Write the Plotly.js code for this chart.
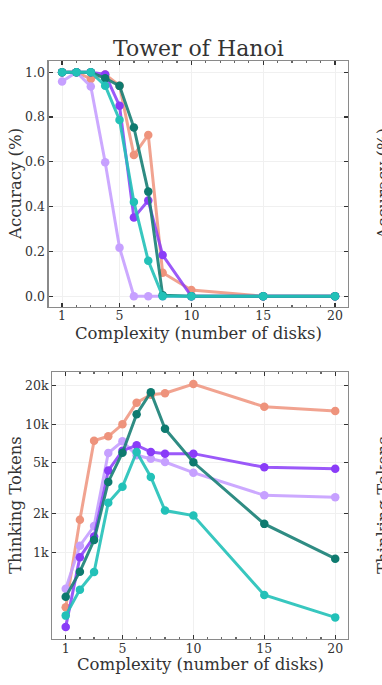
<!DOCTYPE html>
<html>
<head>
<meta charset="utf-8">
<script src="https://cdn.plot.ly/plotly-3.0.1.min.js"></script>
<style>html,body{margin:0;padding:0;background:#fff;}#chart{width:382px;height:685px;}</style>
</head>
<body>
<div id="chart"></div>
<script>
// Complexity (number of disks)
const disks = [1, 2, 3, 4, 5, 6, 7, 8, 10, 15, 20];

// Accuracy per model
const accSalmon     = [1.00, 1.00, 0.97, 0.99, 0.94, 0.63, 0.72, 0.105, 0.028, 0, 0];
const accLavender   = [0.958, 1.00, 0.936, 0.598, 0.217, 0, 0, 0, 0, 0, 0];
const accPurple     = [1.00, 1.00, 1.00, 0.99, 0.85, 0.351, 0.427, 0.184, 0, 0, 0];
const accDarkTeal   = [1.00, 1.00, 1.00, 0.973, 0.939, 0.753, 0.467, 0.005, 0, 0, 0];
const accCyan       = [1.00, 1.00, 1.00, 0.94, 0.787, 0.421, 0.158, 0, 0, 0, 0];

// Thinking tokens per model
const tokSalmon     = [373, 1800, 7450, 8060, 10000, 14750, 17000, 17500, 20640, 13700, 12700];
const tokLavender   = [521, 1128, 1607, 5970, 7360, 5730, 5380, 5080, 4190, 2790, 2700];
const tokPurple     = [262, 917, 1330, 4350, 6220, 6860, 6080, 5900, 5900, 4620, 4500];
const tokDarkTeal   = [451, 707, 1250, 3550, 6000, 11970, 17780, 9240, 5050, 1670, 893];
const tokCyan       = [321, 512, 703, 2440, 3260, 6080, 3880, 2120, 1940, 465, 311];

const accTicks = [0, 0.2, 0.4, 0.6, 0.8, 1.0];
const accTickText = ['0.0', '0.2', '0.4', '0.6', '0.8', '1.0'];
const tokTicks = [1000, 2000, 5000, 10000, 20000];
const tokTickText = ['1k', '2k', '5k', '10k', '20k'];
const xTicks = [1, 5, 10, 15, 20];

const series = [
  {name: 'Model A', color: '#EE937C', line: 'rgba(238,147,124,0.85)', acc: accSalmon, tok: tokSalmon},
  {name: 'Model B', color: '#C6A0FF', line: 'rgba(198,160,255,0.9)', acc: accLavender, tok: tokLavender},
  {name: 'Model C', color: '#8A3CF8', line: 'rgba(138,60,248,0.85)', acc: accPurple, tok: tokPurple},
  {name: 'Model D', color: '#0E7A6F', line: 'rgba(24,128,118,0.9)', acc: accDarkTeal, tok: tokDarkTeal},
  {name: 'Model E', color: '#22C1B8', line: 'rgba(34,193,184,0.9)', acc: accCyan, tok: tokCyan}
];

const traces = [];
series.forEach(s => {
  traces.push({x: disks, y: s.acc, xaxis: 'x', yaxis: 'y', name: s.name, mode: 'lines+markers',
    line: {color: s.line, width: 3}, marker: {color: s.color, size: 8.5}, showlegend: false});
});
series.forEach(s => {
  traces.push({x: disks, y: s.tok, xaxis: 'x2', yaxis: 'y2', name: s.name, mode: 'lines+markers',
    line: {color: s.line, width: 3}, marker: {color: s.color, size: 8.5}, showlegend: false});
});

const W = 382, H = 685;
const px = v => v / W;
const py = v => 1 - v / H;
const FONT = 'DejaVu Serif, serif';
const TXT = '#333333';

const axisCommon = {
  showline: true, mirror: 'ticks', linecolor: '#8a8a8a', linewidth: 1.3,
  ticks: 'inside', ticklen: 4, tickwidth: 1.2, tickcolor: '#333',
  showgrid: true, gridcolor: '#f0f0f0', gridwidth: 1, zeroline: false,
  tickfont: {family: FONT, size: 12.5, color: TXT}
};
const xMinor = {tickmode: 'linear', tick0: 0, dtick: 1, ticks: 'inside', ticklen: 2, tickcolor: '#666', showgrid: false};

const layout = {
  width: W, height: H,
  margin: {l: 0, r: 0, t: 0, b: 0},
  paper_bgcolor: '#fff', plot_bgcolor: '#fff',
  font: {family: FONT, color: TXT},
  xaxis: Object.assign({}, axisCommon, {domain: [px(48.7), px(347.7)], range: [0.07, 20.88], anchor: 'y',
    tickmode: 'array', tickvals: xTicks, minor: xMinor, ticklabelstandoff: -3}),
  yaxis: Object.assign({}, axisCommon, {domain: [py(307), py(61)], range: [-0.048, 1.05], anchor: 'x',
    tickmode: 'array', tickvals: accTicks, ticktext: accTickText}),
  xaxis2: Object.assign({}, axisCommon, {domain: [px(52.3), px(347.7)], range: [0.054, 20.88], anchor: 'y2',
    tickmode: 'array', tickvals: xTicks, minor: xMinor, ticklabelstandoff: -2}),
  yaxis2: Object.assign({}, axisCommon, {domain: [py(638.7), py(372)], type: 'log',
    range: [Math.log10(212), Math.log10(25600)], anchor: 'x2',
    tickmode: 'array', tickvals: tokTicks, ticktext: tokTickText}),
  annotations: [
    {text: 'Tower of Hanoi', x: px(198), y: py(48), xref: 'paper', yref: 'paper', showarrow: false,
      xanchor: 'center', yanchor: 'middle', font: {family: FONT, size: 22, color: TXT}},
    {text: 'Accuracy (%)', x: px(15), y: py(184), xref: 'paper', yref: 'paper', showarrow: false, textangle: -90,
      xanchor: 'center', yanchor: 'middle', font: {family: FONT, size: 16.5, color: TXT}},
    {text: 'Complexity (number of disks)', x: px(198), y: py(333), xref: 'paper', yref: 'paper', showarrow: false,
      xanchor: 'center', yanchor: 'middle', font: {family: FONT, size: 16.5, color: TXT}},
    {text: 'Thinking Tokens', x: px(15), y: py(505), xref: 'paper', yref: 'paper', showarrow: false, textangle: -90,
      xanchor: 'center', yanchor: 'middle', font: {family: FONT, size: 16.5, color: TXT}},
    {text: 'Complexity (number of disks)', x: px(200), y: py(664), xref: 'paper', yref: 'paper', showarrow: false,
      xanchor: 'center', yanchor: 'middle', font: {family: FONT, size: 16.5, color: TXT}},
    {text: 'Accuracy (%)', x: px(383), y: py(184), xref: 'paper', yref: 'paper', showarrow: false, textangle: -90,
      xanchor: 'center', yanchor: 'middle', font: {family: FONT, size: 16.5, color: TXT}},
    {text: 'Thinking Tokens', x: px(383), y: py(505), xref: 'paper', yref: 'paper', showarrow: false, textangle: -90,
      xanchor: 'center', yanchor: 'middle', font: {family: FONT, size: 16.5, color: TXT}}
  ]
};

Plotly.newPlot('chart', traces, layout, {displayModeBar: false, staticPlot: true});
</script>
</body>
</html>
